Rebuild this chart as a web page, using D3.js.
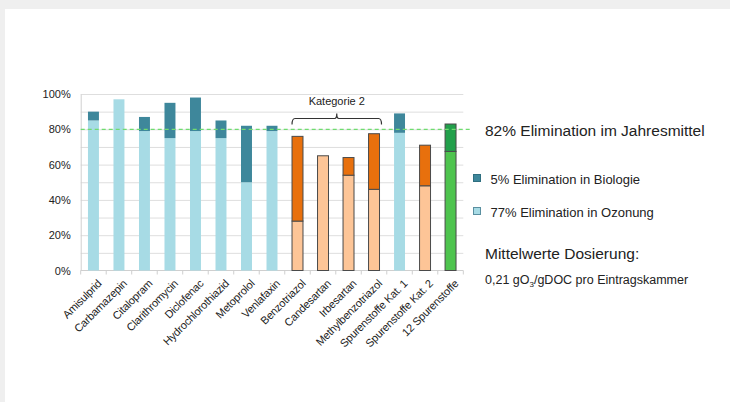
<!DOCTYPE html>
<html>
<head>
<meta charset="utf-8">
<script src="https://cdn.jsdelivr.net/npm/d3@7"></script>
<style>
  html, body { margin: 0; padding: 0; background: #efefef; }
  svg { display: block; }
  text { font-family: "Liberation Sans", Arial, sans-serif; fill: #222; }
</style>
</head>
<body>
<svg id="chart" width="730" height="402"></svg>
<script>
// Substances and aggregates on the x axis
const categories = [
  "Amisulprid", "Carbamazepin", "Citalopram", "Clarithromycin", "Diclofenac",
  "Hydrochlorothiazid", "Metoprolol", "Venlafaxin", "Benzotriazol", "Candesartan",
  "Irbesartan", "Methylbenzotriazol", "Spurenstoffe Kat. 1", "Spurenstoffe Kat. 2",
  "12 Spurenstoffe"
];
// Elimination in ozonation stage (%), lower segment
const ozonung = [85, 97, 79, 75, 79, 75, 50, 79, 28, 65, 54, 46, 78, 48, 67.5];
// Additional elimination in biology (%), upper segment
const biologie = [5, 0, 8, 20, 19, 10, 32, 3, 48, 0, 10, 31.5, 11, 23, 15.5];
// Colour group per bar: category 1, category 2, all substances
const groups = ["k1", "k1", "k1", "k1", "k1", "k1", "k1", "k1",
                "k2", "k2", "k2", "k2", "k1", "k2", "all"];
// Yearly mean elimination line (%)
const meanLine = 80;
const yTicks = [0, 20, 40, 60, 80, 100];
const gridTicks = [10, 20, 30, 40, 50, 60, 70, 80, 90, 100];
// Bracket spans these categories
const bracketFrom = "Benzotriazol", bracketTo = "Methylbenzotriazol";

const palette = {
  k1:  { low: "#a7dbe5", high: "#3e879b", stroke: "none" },
  k2:  { low: "#fdc597", high: "#e8700d", stroke: "#4a4a4a" },
  all: { low: "#4ec44e", high: "#22a04b", stroke: "#4a4a4a" }
};

const svg = d3.select("#chart");
// light frame with white panel
svg.append("rect").attr("x", 0).attr("y", 0).attr("width", 730).attr("height", 402).attr("fill", "#efefef");
svg.append("rect").attr("x", 5).attr("y", 9).attr("width", 725).attr("height", 393).attr("fill", "#ffffff");

const x = d3.scaleBand().domain(categories).range([80.7, 463.3]).paddingInner(0.57).paddingOuter(0.285);
const y = d3.scaleLinear().domain([0, 100]).range([270.5, 94]);

// horizontal grid
svg.append("g").selectAll("line").data(gridTicks).join("line")
  .attr("x1", 80.7).attr("x2", 463.3)
  .attr("y1", d => y(d) + 0.5).attr("y2", d => y(d) + 0.5)
  .attr("stroke", "#dedede").attr("stroke-width", 1);

// y axis
const yAxis = d3.axisLeft(y).tickValues(yTicks).tickSize(0).tickPadding(10).tickFormat(d => d + "%");
const gy = svg.append("g").attr("transform", "translate(80.7,0)").call(yAxis);
gy.select(".domain").attr("stroke", "#d0d0d0");
gy.selectAll("text").style("font-size", "11px").style("font-family", "Liberation Sans, Arial, sans-serif").attr("fill", "#222");

// x axis: line and boundary ticks
const gx = svg.append("g").attr("transform", "translate(0,270.5)");
gx.append("line").attr("x1", 80.7).attr("x2", 463.3).attr("y1", 0).attr("y2", 0).attr("stroke", "#cfcfcf");
const bounds = categories.map(c => x(c) - x.step() * x.paddingInner() / 2);
bounds.push(x(categories[categories.length - 1]) + x.bandwidth() + x.step() * x.paddingInner() / 2);
gx.selectAll("line.tk").data(bounds).join("line").attr("class", "tk")
  .attr("x1", d => d).attr("x2", d => d).attr("y1", 0).attr("y2", 4)
  .attr("stroke", "#cfcfcf");
gx.selectAll("text").data(categories).join("text")
  .attr("transform", d => `translate(${x(d) + x.bandwidth() / 2 + 6},11) rotate(-45)`)
  .attr("text-anchor", "end").attr("dy", "0.35em")
  .style("font-size", "11px").style("letter-spacing", "-0.2px")
  .text(d => d);

// stacked bars
const rows = categories.map((c, i) => ({ c, low: ozonung[i], high: biologie[i], g: groups[i] }));
const bars = svg.append("g");
rows.forEach(r => {
  const p = palette[r.g];
  const bx = x(r.c), bw = x.bandwidth();
  bars.append("rect").attr("x", bx).attr("width", bw)
    .attr("y", y(r.low)).attr("height", y(0) - y(r.low))
    .attr("fill", p.low).attr("stroke", p.stroke).attr("stroke-width", 1);
  if (r.high > 0) {
    bars.append("rect").attr("x", bx).attr("width", bw)
      .attr("y", y(r.low + r.high)).attr("height", y(r.low) - y(r.low + r.high))
      .attr("fill", p.high).attr("stroke", p.stroke).attr("stroke-width", 1);
  }
});

// yearly mean line
svg.append("line")
  .attr("x1", 80.7).attr("x2", 470)
  .attr("y1", y(meanLine)).attr("y2", y(meanLine))
  .attr("stroke", "#70dc70").attr("stroke-width", 1.3).attr("stroke-dasharray", "4,3");

// bracket over category 2
const bx0 = x(bracketFrom), bx1 = x(bracketTo) + x.bandwidth() + 2;
const bm = (bx0 + bx1) / 2, by = 118.5;
svg.append("path")
  .attr("d", `M${bx0},${by + 6} Q${bx0},${by} ${bx0 + 3},${by} L${bm - 2},${by} Q${bm},${by} ${bm},${by - 5} Q${bm},${by} ${bm + 2},${by} L${bx1 - 3},${by} Q${bx1},${by} ${bx1},${by + 6}`)
  .attr("fill", "none").attr("stroke", "#333").attr("stroke-width", 1.2);
svg.append("text").attr("x", bm).attr("y", 104.5).attr("text-anchor", "middle")
  .style("font-size", "11px").text("Kategorie 2");

// annotations on the right
svg.append("text").attr("x", 485).attr("y", 136).style("font-size", "15.5px")
  .text("82% Elimination im Jahresmittel");

const legend = [
  { label: "5% Elimination in Biologie", fill: palette.k1.high, stroke: "#2f6f80", y: 174 },
  { label: "77% Elimination in Ozonung", fill: palette.k1.low, stroke: "#5a8fa0", y: 207 }
];
legend.forEach(l => {
  svg.append("rect").attr("x", 473.5).attr("y", l.y + 0.5).attr("width", 7).attr("height", 7)
    .attr("fill", l.fill).attr("stroke", l.stroke).attr("stroke-width", 1);
  svg.append("text").attr("x", 490.5).attr("y", l.y + 9.5).style("font-size", "13px").text(l.label);
});

svg.append("text").attr("x", 485).attr("y", 259).style("font-size", "15.5px").text("Mittelwerte Dosierung:");
const dose = svg.append("text").attr("x", 485).attr("y", 284).style("font-size", "12.5px");
dose.append("tspan").text("0,21 gO");
dose.append("tspan").attr("dy", 3).style("font-size", "8px").text("3");
dose.append("tspan").attr("dy", -3).text("/gDOC pro Eintragskammer");
</script>
</body>
</html>
